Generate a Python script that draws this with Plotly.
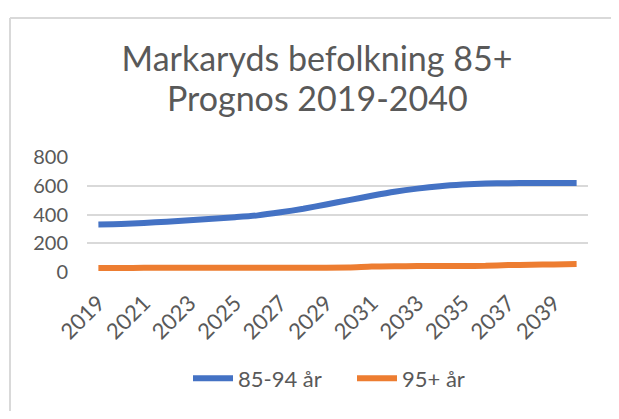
import plotly.graph_objects as go

years = list(range(2019, 2041))
age_85_94 = [331, 334, 341, 350, 360, 370, 381, 394, 415, 440, 470, 500,
             530, 558, 580, 597, 608, 615, 618, 619, 619, 619]
age_95_plus = [28, 28, 29, 29, 29, 29, 30, 30, 30, 30, 30, 31,
               38, 40, 41, 42, 42, 43, 48, 50, 53, 55]
tick_years = list(range(2019, 2040, 2))
y_ticks = [0, 200, 400, 600, 800]

FONT = "Lato"
GREY = "#595959"

# page body has an 8px margin; figure coordinates = screen - 8
W, H = 603, 403
L, R, T, B = 79, 580, 149, 269  # plot area in figure pixels

fig = go.Figure()
fig.add_trace(go.Scatter(x=years, y=age_85_94, mode="lines", name="85-94 år",
                         line=dict(color="#4472C4", width=6, shape="spline", smoothing=0.6)))
fig.add_trace(go.Scatter(x=years, y=age_95_plus, mode="lines", name="95+ år",
                         line=dict(color="#ED7D31", width=6, shape="spline", smoothing=0.6)))

def px_x(p):
    return (p - L) / (R - L)

def px_y(p):
    return (B - p) / (B - T)

fig.add_shape(type="line", xref="paper", yref="paper",
              x0=px_x(2), x1=px_x(660), y0=px_y(4), y1=px_y(4),
              line=dict(color="#d9d9d9", width=2), layer="below")
fig.add_shape(type="line", xref="paper", yref="paper",
              x0=px_x(2), x1=px_x(2), y0=px_y(4), y1=px_y(440),
              line=dict(color="#d9d9d9", width=2), layer="below")

fig.add_annotation(text="Prognos 2019-2040", xref="paper", yref="paper",
                   x=px_x(309), y=px_y(87), xanchor="center", yanchor="middle",
                   showarrow=False, font=dict(family=FONT, size=34, color=GREY))

fig.update_layout(
    width=W, height=H,
    margin=dict(l=L, r=W - R, t=T, b=H - B, pad=0),
    paper_bgcolor="white", plot_bgcolor="white",
    font=dict(family=FONT, color=GREY, size=20),
    title=dict(text="Markaryds befolkning 85+",
               x=309 / W, xref="container", xanchor="center",
               y=1 - 51 / H, yref="container", yanchor="middle",
               font=dict(family=FONT, size=34, color=GREY)),
    xaxis=dict(range=[2018.5, 2040.5], tickvals=tick_years,
               ticktext=[str(t) for t in tick_years], tickangle=-45,
               showgrid=False, zeroline=False, showline=False, ticks="",
               ticklabelstandoff=13,
               tickfont=dict(size=22, color=GREY), fixedrange=True),
    yaxis=dict(range=[0, 800], tickvals=y_ticks, showgrid=True,
               gridcolor="#d9d9d9", gridwidth=1.75, zeroline=False,
               showline=False, ticks="", ticklabelstandoff=18,
               tickfont=dict(size=20, color=GREY), fixedrange=True),
    legend=dict(orientation="h", x=px_x(180), xanchor="left",
                y=px_y(380), yanchor="middle", yref="paper",
                font=dict(size=22, color=GREY), itemwidth=40,
                entrywidth=109, entrywidthmode="pixels",
                bgcolor="rgba(0,0,0,0)"),
    showlegend=True,
)

fig.write_html("out.html", config={"displayModeBar": False})
